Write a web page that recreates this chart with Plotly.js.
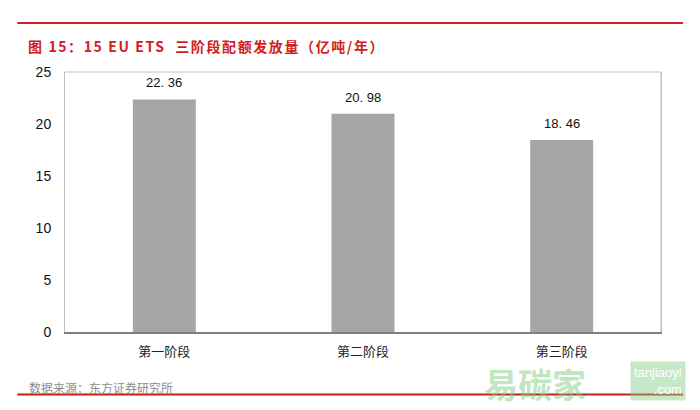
<!DOCTYPE html>
<html><head><meta charset="utf-8">
<script src="https://cdn.plot.ly/plotly-3.0.1.min.js"></script>
<style>html,body{margin:0;padding:0;background:#fff}#c{width:700px;height:410px}</style>
</head><body><div id="c"></div>
<script>
var categories = ["第一阶段", "第二阶段", "第三阶段"];
var allowances = [22.36, 20.98, 18.46];
var yTicks = [0, 5, 10, 15, 20, 25];

var trace = {
  type: "bar",
  x: categories,
  y: allowances,
  marker: {color: "#a6a6a6"},
  hoverinfo: "none"
};

var valueLabels = categories.map(function(c, i){
  return {x: c, y: allowances[i], xref: "x", yref: "y", text: allowances[i].toFixed(2).replace(".", ". "),
    showarrow: false, yanchor: "bottom", yshift: 7,
    font: {family: "Liberation Sans, Arial, sans-serif", size: 13, color: "#111"}};
});

var layout = {
  width: 700, height: 410,
  margin: {l: 65, r: 39, t: 72, b: 78},
  paper_bgcolor: "#fff", plot_bgcolor: "#fff",
  showlegend: false,
  bargap: 0.683,
  xaxis: {
    type: "category",
    showline: true, linecolor: "#808080", linewidth: 2,
    mirror: false, showgrid: false, ticks: "", ticklabelstandoff: 6,
    tickfont: {family: "Noto Sans CJK SC, sans-serif", size: 13, color: "#222"},
    fixedrange: true
  },
  yaxis: {
    range: [0, 25], tickvals: yTicks, ticktext: yTicks.map(String),
    showgrid: false, zeroline: false,
    showline: true, linecolor: "#bfbfbf", linewidth: 1, mirror: true,
    ticks: "", ticklen: 0, ticklabelstandoff: 10,
    tickfont: {family: "Liberation Sans, Arial, sans-serif", size: 14, color: "#111"},
    fixedrange: true
  },
  shapes: [
    {type: "line", xref: "paper", yref: "paper", x0: 0, x1: 1, y0: 1, y1: 1, line: {color: "#bfbfbf", width: 1}},
    {type: "line", xref: "paper", yref: "paper", x0: 1, x1: 1, y0: 0, y1: 1, line: {color: "#bfbfbf", width: 1}},
    {type: "line", xref: "paper", yref: "paper", x0: -0.08, x1: 1.037, y0: 1.188, y1: 1.188, line: {color: "#d0201c", width: 2}},
    {type: "line", xref: "paper", yref: "paper", x0: -0.08, x1: 1.037, y0: -0.24, y1: -0.24, line: {color: "#c0201c", width: 2}}
  ],
  annotations: [
    {text: "图 15：15 EU ETS  三阶段配额发放量（亿吨/年）", xref: "paper", yref: "paper",
     x: -0.026, y: 1.10, xanchor: "left", yanchor: "middle", showarrow: false,
     font: {family: "Noto Sans CJK SC, sans-serif", size: 14, color: "#d0201c", weight: "bold"}},
    {text: "数据来源：东方证券研究所", xref: "paper", yref: "paper",
     x: -0.064, y: -0.212, xanchor: "left", yanchor: "middle", showarrow: false,
     font: {family: "Noto Sans CJK SC, sans-serif", size: 12, color: "#8c8c8c"}},
    {text: "易碳家", xref: "paper", yref: "paper",
     x: 0.70, y: -0.198, xanchor: "left", yanchor: "middle", showarrow: false,
     font: {family: "Noto Sans CJK SC, sans-serif", size: 34, color: "rgba(130,205,130,0.5)", weight: "bold"}},
    {text: "tanjiaoyi<br>    .com", xref: "paper", yref: "paper",
     x: 0.995, y: -0.19, xanchor: "center", yanchor: "middle", showarrow: false, align: "right",
     bgcolor: "rgba(130,205,130,0.45)", borderpad: 3,
     font: {family: "Liberation Sans, Arial, sans-serif", size: 13, color: "#fff"}}
  ].concat(valueLabels)
};

Plotly.newPlot("c", [trace], layout, {displayModeBar: false, staticPlot: true}).then(function(){
  var t = document.querySelectorAll("#c .annotation-text");
  if (t[0]) t[0].style.letterSpacing = "1.6px";
});
</script>
</body></html>
